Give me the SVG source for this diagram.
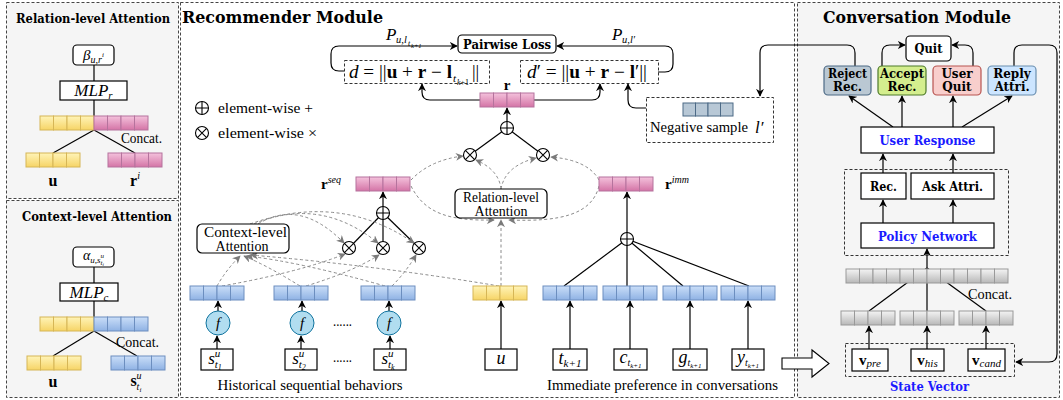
<svg xmlns="http://www.w3.org/2000/svg" width="1063" height="400" viewBox="0 0 1063 400">
<style>
text{font-family:"Liberation Serif","DejaVu Serif",serif;fill:#000}
.b{font-family:"DejaVu Serif","Liberation Serif",serif;font-weight:bold}
.i{font-style:italic}
.m{font-style:italic}
.bl{fill:#1a1aff}
.box{fill:#fff;stroke:#000;stroke-width:1.2}
.dash{fill:none;stroke:#333;stroke-width:1;stroke-dasharray:3 2}
.ln{stroke:#000;fill:none;stroke-width:1.2}
.ar{stroke:#000;fill:none;stroke-width:1.2;marker-end:url(#ah)}
.ga{stroke:#8a8a8a;fill:none;stroke-width:1;stroke-dasharray:3 2.5;marker-end:url(#gh)}
.panel{stroke:#444;stroke-width:1;stroke-dasharray:3 2}
</style>
<defs>
<marker id="ah" viewBox="0 0 10 10" refX="9" refY="5" markerWidth="8" markerHeight="8" orient="auto" markerUnits="userSpaceOnUse"><path d="M0,0 L10,5 L0,10 L3,5 z" fill="#000"/></marker>
<marker id="gh" viewBox="0 0 10 10" refX="9" refY="5" markerWidth="8" markerHeight="8" orient="auto" markerUnits="userSpaceOnUse"><path d="M0,0 L10,5 L0,10 L3,5 z" fill="#7a7a7a"/></marker>
<linearGradient id="gY" x1="0" y1="0" x2="0" y2="1"><stop offset="0" stop-color="#fff4b8"/><stop offset="1" stop-color="#f6d466"/></linearGradient>
<linearGradient id="gP" x1="0" y1="0" x2="0" y2="1"><stop offset="0" stop-color="#f4c2dc"/><stop offset="1" stop-color="#d474a6"/></linearGradient>
<linearGradient id="gB" x1="0" y1="0" x2="0" y2="1"><stop offset="0" stop-color="#cadef8"/><stop offset="1" stop-color="#8fb2e4"/></linearGradient>
<linearGradient id="gG" x1="0" y1="0" x2="0" y2="1"><stop offset="0" stop-color="#f4f4f4"/><stop offset="1" stop-color="#b8b8b8"/></linearGradient>
<g id="vY" stroke="#d6b656" fill="url(#gY)"><rect x="0" y="0" width="13.5" height="14"/><rect x="13.5" y="0" width="13.5" height="14"/><rect x="27" y="0" width="13.5" height="14"/><rect x="40.5" y="0" width="13.5" height="14"/></g>
<g id="vP" stroke="#b5739d" fill="url(#gP)"><rect x="0" y="0" width="13.5" height="14"/><rect x="13.5" y="0" width="13.5" height="14"/><rect x="27" y="0" width="13.5" height="14"/><rect x="40.5" y="0" width="13.5" height="14"/></g>
<g id="vB" stroke="#6c8ebf" fill="url(#gB)"><rect x="0" y="0" width="13.5" height="14"/><rect x="13.5" y="0" width="13.5" height="14"/><rect x="27" y="0" width="13.5" height="14"/><rect x="40.5" y="0" width="13.5" height="14"/></g>
<g id="vG" stroke="#999" fill="url(#gG)"><rect x="0" y="0" width="13.5" height="14"/><rect x="13.5" y="0" width="13.5" height="14"/><rect x="27" y="0" width="13.5" height="14"/><rect x="40.5" y="0" width="13.5" height="14"/></g>
<g id="vN" stroke="#4d6a86" fill="#b8c8d6"><rect x="0" y="0" width="12.5" height="13"/><rect x="12.5" y="0" width="12.5" height="13"/><rect x="25" y="0" width="12.5" height="13"/><rect x="37.5" y="0" width="12.5" height="13"/></g>
<g id="otimes"><circle r="6.5" fill="#fff" stroke="#000" stroke-width="1.1"/><path d="M-4.6,-4.6 L4.6,4.6 M-4.6,4.6 L4.6,-4.6" stroke="#000" stroke-width="1.1"/></g>
<g id="oplus"><circle r="6.5" fill="#fff" stroke="#000" stroke-width="1.1"/><path d="M-6.5,0 H6.5 M0,-6.5 V6.5" stroke="#000" stroke-width="1.1"/></g>
</defs>

<!-- panels -->
<rect class="panel" x="6.5" y="2.5" width="172" height="196" fill="#f5f5f5"/>
<rect class="panel" x="6.5" y="200.5" width="172" height="197" fill="#f5f5f5"/>
<rect class="panel" x="180.5" y="2.5" width="614" height="395" fill="#fff"/>
<rect class="panel" x="797.5" y="2.5" width="262" height="395" fill="#f5f5f5"/>

<!-- Relation-level Attention panel -->
<g id="rel-panel">
<text class="b" x="16" y="23" font-size="12" textLength="154" lengthAdjust="spacingAndGlyphs">Relation-level Attention</text>
<line class="ln" x1="94" y1="65" x2="94" y2="81"/>
<line class="ln" x1="94" y1="100" x2="94" y2="116"/>
<line class="ln" x1="94" y1="130" x2="53" y2="153"/>
<line class="ln" x1="94" y1="130" x2="135" y2="153"/>
<rect class="box" x="73" y="45" width="41" height="20" rx="4"/>
<text class="m" x="93.5" y="59.5" font-size="15" text-anchor="middle">β<tspan font-size="10" dy="3">u,r</tspan><tspan font-size="7" dy="-6">i</tspan></text>
<rect class="box" x="60" y="81" width="67" height="19"/>
<text class="m" x="93.5" y="96" font-size="17" text-anchor="middle">MLP<tspan font-size="11" dy="3">r</tspan></text>
<use href="#vY" x="40" y="116"/><use href="#vP" x="94" y="116"/>
<text x="121" y="143" font-size="14" textLength="41" lengthAdjust="spacingAndGlyphs">Concat.</text>
<use href="#vY" x="26" y="153"/><use href="#vP" x="108" y="153"/>
<text x="53" y="186" font-size="16" font-weight="bold" text-anchor="middle">u</text>
<text x="135" y="186" font-size="16" font-weight="bold" text-anchor="middle">r<tspan class="m" font-weight="normal" font-size="10" dy="-7">i</tspan></text>
</g>

<!-- Context-level Attention panel -->
<g id="ctx-panel">
<text class="b" x="22" y="221" font-size="12" textLength="150" lengthAdjust="spacingAndGlyphs">Context-level Attention</text>
<line class="ln" x1="94" y1="267" x2="94" y2="283"/>
<line class="ln" x1="94" y1="301" x2="94" y2="317"/>
<line class="ln" x1="94" y1="331" x2="53" y2="356"/>
<line class="ln" x1="94" y1="331" x2="137" y2="356"/>
<rect class="box" x="73" y="247" width="41" height="20" rx="4"/>
<text class="m" x="93.5" y="260" font-size="14" text-anchor="middle">α<tspan font-size="9" dy="3">u,s</tspan><tspan font-size="7" dy="-5">u</tspan><tspan font-size="7" dx="-3.5" dy="7">t</tspan><tspan font-size="5" dy="1">i</tspan></text>
<rect class="box" x="60" y="283" width="58" height="18"/>
<text class="m" x="89" y="297.5" font-size="17" text-anchor="middle">MLP<tspan font-size="11" dy="3">c</tspan></text>
<use href="#vY" x="40" y="317"/><use href="#vB" x="94" y="317"/>
<text x="116" y="347" font-size="14" textLength="43" lengthAdjust="spacingAndGlyphs">Concat.</text>
<use href="#vY" x="27" y="356"/><use href="#vB" x="111" y="356"/>
<text x="53" y="387" font-size="16" font-weight="bold" text-anchor="middle">u</text>
<text x="136" y="386" font-size="16" font-weight="bold" text-anchor="middle">s<tspan class="m" font-weight="normal" font-size="10" dy="-7">u</tspan><tspan class="m" font-weight="normal" font-size="10" dx="-5" dy="11">t</tspan><tspan class="m" font-weight="normal" font-size="7" dy="2">i</tspan></text>
</g>

<!-- Recommender module -->
<text class="b" x="182" y="23" font-size="16" textLength="201" lengthAdjust="spacingAndGlyphs">Recommender Module</text>

<g id="legend">
<use href="#oplus" x="202" y="108"/>
<text x="218" y="113" font-size="15" textLength="95" lengthAdjust="spacingAndGlyphs">element-wise +</text>
<use href="#otimes" x="202" y="133"/>
<text x="218" y="138" font-size="15" textLength="99" lengthAdjust="spacingAndGlyphs">element-wise ×</text>
</g>

<!-- connectors -->
<g id="connectors">
<path class="ar" d="M344,71 H339 Q331,71 331,63 V54 Q331,46 339,46 H457"/>
<path class="ar" d="M658,72 H665 Q673,72 673,64 V54 Q673,46 665,46 H557"/>
<path class="ar" d="M480,100 H430 Q422,100 422,92 V84"/>
<path class="ar" d="M534,100 H592 Q600,100 600,92 V84"/>
<path class="ar" d="M646,108 H636 Q628,108 628,100 V84"/>
<path class="ar" d="M855,66 V53 Q855,45 847,45 H768 Q760,45 760,53 V96"/>
<line class="ar" x1="507" y1="121.5" x2="507" y2="108"/>
<line class="ln" x1="507" y1="128" x2="470" y2="155"/>
<line class="ln" x1="507" y1="128" x2="543" y2="155"/>
<line class="ar" x1="383" y1="206.5" x2="383" y2="192"/>
<line class="ln" x1="383" y1="213" x2="349" y2="248"/>
<line class="ln" x1="383" y1="213" x2="383" y2="248"/>
<line class="ln" x1="383" y1="213" x2="419" y2="248"/>
<line class="ar" x1="627" y1="232.5" x2="627" y2="192"/>
<line class="ln" x1="627" y1="239" x2="564" y2="286"/>
<line class="ln" x1="627" y1="239" x2="627" y2="286"/>
<line class="ln" x1="627" y1="239" x2="683" y2="286"/>
<line class="ln" x1="627" y1="239" x2="749" y2="286"/>
<line class="ar" x1="218" y1="311" x2="218" y2="301"/>
<line class="ar" x1="302" y1="311" x2="302" y2="301"/>
<line class="ar" x1="389" y1="311" x2="389" y2="301"/>
<line class="ar" x1="217" y1="349" x2="217" y2="336"/>
<line class="ar" x1="301" y1="349" x2="301" y2="336"/>
<line class="ar" x1="390" y1="349" x2="390" y2="336"/>
<line class="ar" x1="501" y1="349" x2="501" y2="301"/>
<line class="ar" x1="570" y1="349" x2="570" y2="301"/>
<line class="ar" x1="630" y1="349" x2="630" y2="301"/>
<line class="ar" x1="690" y1="349" x2="690" y2="301"/>
<line class="ar" x1="748" y1="349" x2="748" y2="301"/>
<path class="ga" d="M217,286 Q226,270 240,256"/>
<path class="ga" d="M300,286 Q268,266 244,256"/>
<path class="ga" d="M385,286 Q300,262 247,256"/>
<path class="ga" d="M499,286 Q380,266 251,255"/>
<path class="ga" d="M222,286 Q300,272 345,254"/>
<path class="ga" d="M306,286 Q352,272 379,255"/>
<path class="ga" d="M392,286 Q406,272 416,255"/>
<path class="ga" d="M258,224 Q300,198 344,243"/>
<path class="ga" d="M254,224 Q320,196 378,243"/>
<path class="ga" d="M250,224 Q340,192 414,243"/>
<path class="ga" d="M501,286 V220"/>
<path class="ga" d="M411,186 C425,214 450,221 494,220"/>
<path class="ga" d="M599,186 C592,214 562,222 509,220"/>
<path class="ga" d="M501,189 Q499,170 476,160"/>
<path class="ga" d="M501,189 Q505,166 536,158"/>
<path class="ga" d="M411,180 Q430,160 463,156"/>
<path class="ga" d="M599,180 Q588,160 551,157"/>
<path class="ar" d="M882,66 V53 Q882,45 890,45 H905"/>
<path class="ar" d="M973,66 V53 Q973,45 965,45 H952"/>
<path class="ar" d="M1014,66 V53 Q1014,45 1022,45 H1049 Q1057,45 1057,53 V354 Q1057,362 1049,362 H1016"/>
<line class="ar" x1="893" y1="127" x2="849" y2="96"/>
<line class="ar" x1="902" y1="127" x2="902" y2="96"/>
<line class="ar" x1="953" y1="127" x2="953" y2="96"/>
<line class="ar" x1="962" y1="127" x2="1012" y2="96"/>
<line class="ar" x1="883" y1="173" x2="883" y2="154"/>
<line class="ar" x1="953" y1="173" x2="953" y2="154"/>
<line class="ar" x1="883" y1="223" x2="883" y2="200"/>
<line class="ar" x1="953" y1="223" x2="953" y2="200"/>
<line class="ar" x1="927" y1="269" x2="927" y2="249"/>
<line class="ln" x1="927" y1="268" x2="869" y2="311"/>
<line class="ln" x1="927" y1="268" x2="927" y2="311"/>
<line class="ln" x1="927" y1="268" x2="986" y2="311"/>
<line class="ar" x1="869" y1="349" x2="869" y2="326"/>
<line class="ar" x1="927" y1="349" x2="927" y2="326"/>
<line class="ar" x1="986" y1="349" x2="986" y2="326"/>
<polygon points="782,358 812,358 812,350 829,363.5 812,377 812,369 782,369" fill="#fff" stroke="#000" stroke-width="1.1"/>
</g>

<!-- loss -->
<text class="m" x="386" y="40" font-size="17">P</text>
<text class="m" x="396" y="43" font-size="10.5">u,l</text>
<text class="m" x="408" y="46" font-size="8">t</text>
<text class="m" x="411" y="48" font-size="6.5">k+1</text>
<text class="m" x="612" y="40" font-size="17">P</text>
<text class="m" x="622" y="43" font-size="10.5">u,l′</text>
<g id="pairwise-loss">
<rect class="box" x="458" y="35" width="98" height="18" rx="4"/>
<text class="b" x="507" y="48.5" font-size="12" text-anchor="middle" textLength="88" lengthAdjust="spacingAndGlyphs">Pairwise Loss</text>
</g>
<g id="d-box">
<rect class="dash" x="344.5" y="60.5" width="145" height="23"/>
<text x="349" y="78" font-size="18" textLength="103" lengthAdjust="spacingAndGlyphs"><tspan class="i">d</tspan> = ||<tspan font-weight="bold">u</tspan> + <tspan font-weight="bold">r</tspan> − <tspan font-weight="bold">l</tspan></text>
<text class="i" x="453" y="82" font-size="11">t</text>
<text x="457" y="85" font-size="8"><tspan class="i">k</tspan>+1</text>
<text x="472" y="78" font-size="18">||</text>
</g>
<g id="dprime-box">
<rect class="dash" x="520.5" y="60.5" width="138" height="23"/>
<text x="527" y="78" font-size="18" textLength="120" lengthAdjust="spacingAndGlyphs"><tspan class="i">d</tspan>′ = ||<tspan font-weight="bold">u</tspan> + <tspan font-weight="bold">r</tspan> − <tspan font-weight="bold">l</tspan>′||</text>
</g>
<g id="r-vec">
<use href="#vP" x="480" y="93"/>
<text x="507" y="90" font-size="15" font-weight="bold" text-anchor="middle">r</text>
<use href="#oplus" x="507" y="128"/>
<use href="#otimes" x="470" y="155"/>
<use href="#otimes" x="543" y="155"/>
</g>
<g id="negative-sample">
<rect class="dash" x="646.5" y="97.5" width="127" height="45"/>
<use href="#vN" x="683" y="103"/>
<text x="650" y="132" font-size="15" textLength="98" lengthAdjust="spacingAndGlyphs">Negative sample</text>
<text class="i" x="755" y="133" font-size="17">l′</text>
</g>
<g id="rseq">
<use href="#vP" x="356" y="177"/>
<text x="321" y="189" font-size="15" font-weight="bold">r<tspan class="i" font-weight="normal" font-size="10" dy="-6">seq</tspan></text>
<use href="#oplus" x="383" y="213"/>
<use href="#otimes" x="349" y="248"/>
<use href="#otimes" x="383" y="248"/>
<use href="#otimes" x="419" y="248"/>
</g>
<g id="context-attention">
<rect class="box" x="197" y="224" width="92" height="29" rx="5"/>
<text x="245.5" y="237" font-size="14" text-anchor="middle" textLength="83" lengthAdjust="spacingAndGlyphs">Context-level</text>
<text x="242" y="250.5" font-size="14" text-anchor="middle" textLength="53" lengthAdjust="spacingAndGlyphs">Attention</text>
</g>
<g id="relation-attention">
<rect class="box" x="455" y="189" width="92" height="29" rx="5"/>
<text x="501" y="202" font-size="14" text-anchor="middle" textLength="76" lengthAdjust="spacingAndGlyphs">Relation-level</text>
<text x="501" y="215.5" font-size="14" text-anchor="middle" textLength="53" lengthAdjust="spacingAndGlyphs">Attention</text>
</g>
<g id="rimm">
<use href="#vP" x="599" y="177"/>
<text x="665" y="189" font-size="15" font-weight="bold">r<tspan class="i" font-weight="normal" font-size="10" dy="-6">imm</tspan></text>
<use href="#oplus" x="627" y="239"/>
</g>

<!-- bottom vectors -->
<g id="hist-1"><use href="#vB" x="190" y="286"/><circle cx="218" cy="323" r="12" fill="#b1ddf0" stroke="#10739e"/><text class="i" x="218" y="328" font-size="15" text-anchor="middle">f</text>
<rect class="box" x="201" y="349" width="32" height="21"/><text class="i" x="215" y="364" font-size="17" text-anchor="middle">s<tspan font-size="11" dy="-7">u</tspan><tspan font-size="11" dx="-5.5" dy="11">t</tspan><tspan font-size="8" dy="2">1</tspan></text></g>
<g id="hist-2"><use href="#vB" x="274" y="286"/><circle cx="302" cy="323" r="12" fill="#b1ddf0" stroke="#10739e"/><text class="i" x="302" y="328" font-size="15" text-anchor="middle">f</text>
<rect class="box" x="285" y="349" width="32" height="21"/><text class="i" x="299" y="364" font-size="17" text-anchor="middle">s<tspan font-size="11" dy="-7">u</tspan><tspan font-size="11" dx="-5.5" dy="11">t</tspan><tspan font-size="8" dy="2">2</tspan></text></g>
<g id="hist-k"><use href="#vB" x="361" y="286"/><circle cx="389" cy="323" r="12" fill="#b1ddf0" stroke="#10739e"/><text class="i" x="389" y="328" font-size="15" text-anchor="middle">f</text>
<rect class="box" x="374" y="349" width="32" height="21"/><text class="i" x="388" y="364" font-size="17" text-anchor="middle">s<tspan font-size="11" dy="-7">u</tspan><tspan font-size="11" dx="-5.5" dy="11">t</tspan><tspan font-size="8" dy="2">k</tspan></text></g>
<text x="333" y="326" font-size="14" textLength="19" lengthAdjust="spacingAndGlyphs">......</text>
<text x="333" y="362" font-size="14" textLength="19" lengthAdjust="spacingAndGlyphs">......</text>
<text x="310" y="390" font-size="15" text-anchor="middle" textLength="185" lengthAdjust="spacingAndGlyphs">Historical sequential behaviors</text>

<g id="user-u"><use href="#vY" x="473" y="286"/><rect class="box" x="485" y="349" width="32" height="21"/><text class="i" x="501" y="364" font-size="18" text-anchor="middle">u</text></g>
<g id="item-t"><use href="#vB" x="543" y="286"/><rect class="box" x="553" y="349" width="34" height="21"/><text class="i" x="570" y="364" font-size="18" text-anchor="middle">t<tspan font-size="11" dy="3">k+1</tspan></text></g>
<g id="item-c"><use href="#vB" x="603" y="286"/><rect class="box" x="614" y="349" width="33" height="21"/><text class="i" x="630.5" y="363" font-size="18" text-anchor="middle">c<tspan font-size="10" dy="3">t</tspan><tspan font-size="7" dy="2">k+1</tspan></text></g>
<g id="item-g"><use href="#vB" x="663" y="286"/><rect class="box" x="673" y="349" width="34" height="21"/><text class="i" x="690" y="363" font-size="18" text-anchor="middle">g<tspan font-size="10" dy="3">t</tspan><tspan font-size="7" dy="2">k+1</tspan></text></g>
<g id="item-y"><use href="#vB" x="721" y="286"/><rect class="box" x="732" y="349" width="32" height="21"/><text class="i" x="748" y="363" font-size="18" text-anchor="middle">y<tspan font-size="10" dy="3">t</tspan><tspan font-size="7" dy="2">k+1</tspan></text></g>
<text x="662.5" y="390" font-size="15" text-anchor="middle" textLength="231" lengthAdjust="spacingAndGlyphs">Immediate preference in conversations</text>

<!-- Conversation module -->
<text class="b" x="823" y="23" font-size="16" textLength="188" lengthAdjust="spacingAndGlyphs">Conversation Module</text>
<g id="quit"><rect class="box" x="906" y="36" width="45" height="25" rx="4"/><text class="b" x="928.5" y="53" font-size="12.5" text-anchor="middle" textLength="28" lengthAdjust="spacingAndGlyphs">Quit</text></g>
<g id="reject"><rect x="824" y="66" width="47" height="29" rx="4" fill="#bac8d3" stroke="#4d6a86" stroke-width="1.2"/><text class="b" x="847.5" y="78" font-size="12" text-anchor="middle" textLength="39" lengthAdjust="spacingAndGlyphs">Reject</text><text class="b" x="847.5" y="91" font-size="12" text-anchor="middle">Rec.</text></g>
<g id="accept"><rect x="878" y="66" width="48" height="29" rx="4" fill="#d4ee8e" stroke="#4d7a2a" stroke-width="1.2"/><text class="b" x="902" y="78" font-size="12" text-anchor="middle" textLength="44" lengthAdjust="spacingAndGlyphs">Accept</text><text class="b" x="902" y="91" font-size="12" text-anchor="middle">Rec.</text></g>
<g id="userquit"><rect x="933" y="66" width="48" height="29" rx="4" fill="#f8cecc" stroke="#b85450" stroke-width="1.2"/><text class="b" x="957" y="78" font-size="12" text-anchor="middle">User</text><text class="b" x="957" y="91" font-size="12" text-anchor="middle">Quit</text></g>
<g id="reply"><rect x="988" y="66" width="48" height="29" rx="4" fill="#cce5ff" stroke="#6a8fb0" stroke-width="1.2"/><text class="b" x="1012" y="78" font-size="12" text-anchor="middle">Reply</text><text class="b" x="1012" y="91" font-size="12" text-anchor="middle">Attri.</text></g>
<g id="user-response"><rect class="box" x="861" y="127" width="133" height="26"/><text class="b bl" x="927.5" y="145" font-size="13" text-anchor="middle" textLength="96" lengthAdjust="spacingAndGlyphs">User Response</text></g>
<rect class="dash" x="844.5" y="169.5" width="164" height="86"/>
<g id="rec"><rect class="box" x="861" y="173" width="45" height="26"/><text class="b" x="883.5" y="191" font-size="12.5" text-anchor="middle" textLength="27" lengthAdjust="spacingAndGlyphs">Rec.</text></g>
<g id="ask"><rect class="box" x="911" y="173" width="83" height="26"/><text class="b" x="952.5" y="191" font-size="12.5" text-anchor="middle" textLength="61" lengthAdjust="spacingAndGlyphs">Ask Attri.</text></g>
<g id="policy"><rect class="box" x="861" y="223" width="133" height="25"/><text class="b bl" x="927.5" y="240.5" font-size="13" text-anchor="middle" textLength="99" lengthAdjust="spacingAndGlyphs">Policy Network</text></g>
<g id="concat-state"><use href="#vG" x="846" y="269"/><use href="#vG" x="900" y="269"/><use href="#vG" x="954" y="269"/>
<text x="968" y="299" font-size="14" textLength="44" lengthAdjust="spacingAndGlyphs">Concat.</text></g>
<g id="state-vecs"><use href="#vG" x="841" y="311"/><use href="#vG" x="900" y="311"/><use href="#vG" x="959" y="311"/></g>
<g id="state-vector">
<rect class="dash" x="845.5" y="343.5" width="169" height="33"/>
<rect class="box" x="852" y="349" width="36" height="22"/><text x="870" y="365" font-size="15" text-anchor="middle"><tspan font-weight="bold">v</tspan><tspan class="i" font-size="11" dy="2">pre</tspan></text>
<rect class="box" x="911" y="349" width="33" height="22"/><text x="927.5" y="365" font-size="15" text-anchor="middle"><tspan font-weight="bold">v</tspan><tspan class="i" font-size="11" dy="2">his</tspan></text>
<rect class="box" x="968" y="349" width="37" height="22"/><text x="986.5" y="365" font-size="15" text-anchor="middle"><tspan font-weight="bold">v</tspan><tspan class="i" font-size="11" dy="2">cand</tspan></text>
<text class="b bl" x="929.5" y="391" font-size="13" text-anchor="middle" textLength="79" lengthAdjust="spacingAndGlyphs">State Vector</text>
</g>
</svg>
